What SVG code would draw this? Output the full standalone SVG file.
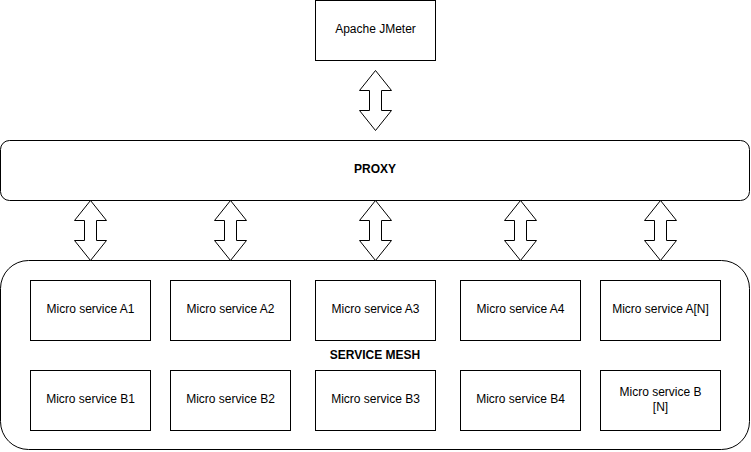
<svg xmlns="http://www.w3.org/2000/svg" width="751" height="452" viewBox="0 0 751 452">
<style>
.box{fill:#fff;stroke:#000;stroke-width:1}
.arr{fill:#fff;stroke:#000;stroke-width:1;stroke-linejoin:miter}
.t{font-family:"Liberation Sans",Arial,sans-serif;font-size:12px;fill:#000;text-anchor:middle}
.b{font-weight:bold}
</style>
<defs>
<path id="dbl" d="M0,0 L16,20 L6,20 L6,40 L16,40 L0,60 L-16,40 L-6,40 L-6,20 L-16,20 Z"/>
</defs>
<rect width="751" height="452" fill="#fff"/>
<g id="jmeter"><rect class="box" x="315.5" y="0.5" width="120" height="60"/><text class="t" x="375.5" y="33">Apache JMeter</text></g>
<g id="proxy"><rect class="box" x="0.5" y="140.5" width="749" height="60" rx="9" ry="9"/><text class="t b" x="375" y="172.5">PROXY</text></g>
<g id="mesh"><rect class="box" x="0.5" y="260.5" width="749" height="189" rx="28" ry="28"/><text class="t b" x="375" y="358.5">SERVICE MESH</text></g>
<g id="msA1"><rect class="box" x="30.5" y="280.5" width="120" height="60"/><text class="t" x="90.5" y="312.5">Micro service A1</text></g>
<g id="msA2"><rect class="box" x="170.5" y="280.5" width="120" height="60"/><text class="t" x="230.5" y="312.5">Micro service A2</text></g>
<g id="msA3"><rect class="box" x="315.5" y="280.5" width="120" height="60"/><text class="t" x="375.5" y="312.5">Micro service A3</text></g>
<g id="msA4"><rect class="box" x="460.5" y="280.5" width="120" height="60"/><text class="t" x="520.5" y="312.5">Micro service A4</text></g>
<g id="msAN"><rect class="box" x="600.5" y="280.5" width="120" height="60"/><text class="t" x="660.5" y="312.5">Micro service A[N]</text></g>
<g id="msB1"><rect class="box" x="30.5" y="370.5" width="120" height="60"/><text class="t" x="90.5" y="402.5">Micro service B1</text></g>
<g id="msB2"><rect class="box" x="170.5" y="370.5" width="120" height="60"/><text class="t" x="230.5" y="402.5">Micro service B2</text></g>
<g id="msB3"><rect class="box" x="315.5" y="370.5" width="120" height="60"/><text class="t" x="375.5" y="402.5">Micro service B3</text></g>
<g id="msB4"><rect class="box" x="460.5" y="370.5" width="120" height="60"/><text class="t" x="520.5" y="402.5">Micro service B4</text></g>
<g id="msBN"><rect class="box" x="600.5" y="370.5" width="120" height="60"/><text class="t" x="660.5" y="396">Micro service B</text><text class="t" x="660.5" y="411">[N]</text></g>
<g id="connectors">
<use href="#dbl" class="arr" x="375.5" y="70.5"/>
<use href="#dbl" class="arr" x="90.5" y="200.5"/>
<use href="#dbl" class="arr" x="230.5" y="200.5"/>
<use href="#dbl" class="arr" x="375.5" y="200.5"/>
<use href="#dbl" class="arr" x="520.5" y="200.5"/>
<use href="#dbl" class="arr" x="660.5" y="200.5"/>
</g>
</svg>
